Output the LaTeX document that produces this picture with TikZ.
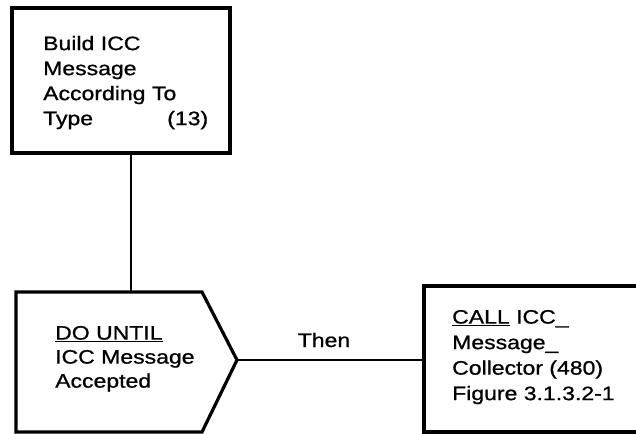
\documentclass[tikz,border=0pt]{standalone}
\usepackage{fontspec}
\setmainfont{Liberation Sans}[FakeStretch=1.18,FakeBold=0.9]
\begin{document}
\begin{tikzpicture}[x=1pt,y=-1pt,
  frame/.style={draw=black,line width=3.2pt},
  link/.style={draw=black,line width=1.9pt},
  txt/.style={inner sep=0pt,font=\fontsize{19.5}{25}\selectfont},
  label/.style={txt,anchor=north west,align=left}]
  \useasboundingbox (0,0) rectangle (636,433);
  \clip (0,0) rectangle (636,433);
  % processing box
  \node[frame,rectangle,minimum width=218pt,minimum height=145pt,inner sep=0pt]
    (build) at (121,80.5) {};
  \node[label,text width=165pt] (buildtxt) at (43,35.8)
    {Build ICC\\Message\\According To\\Type\hfill(13)};
  % loop shape
  \coordinate (lt) at (16,292);
  \coordinate (rt) at (202,292);
  \coordinate (tip) at (237,360);
  \coordinate (rb) at (202,432);
  \coordinate (lb) at (16,432);
  \coordinate (loopin) at (131,292);
  \draw[frame,line join=miter] (lb) -- (lt) -- (rt) -- (tip) -- (rb) -- cycle;
  \node[label,font=\fontsize{19.5}{24}\selectfont] (looptxt) at (55,325.8)
    {\underline{DO UNTIL}\\ICC Message\\Accepted};
  % called module box
  \node[frame,rectangle,minimum width=240pt,minimum height=146pt,inner sep=0pt]
    (call) at (544,359) {};
  \node[label,font=\fontsize{19.5}{25.5}\selectfont] (calltxt) at (452,309.8)
    {\underline{CALL} ICC\_\\Message\_\\Collector (480)\\Figure 3.1.3.2-1};
  % connectors
  \draw[link] (build.south -| loopin) -- (loopin);
  \draw[link] (tip) -- (tip -| call.west);
  \node[txt,anchor=base] (then) at (324,347) {Then};
\end{tikzpicture}
\end{document}
